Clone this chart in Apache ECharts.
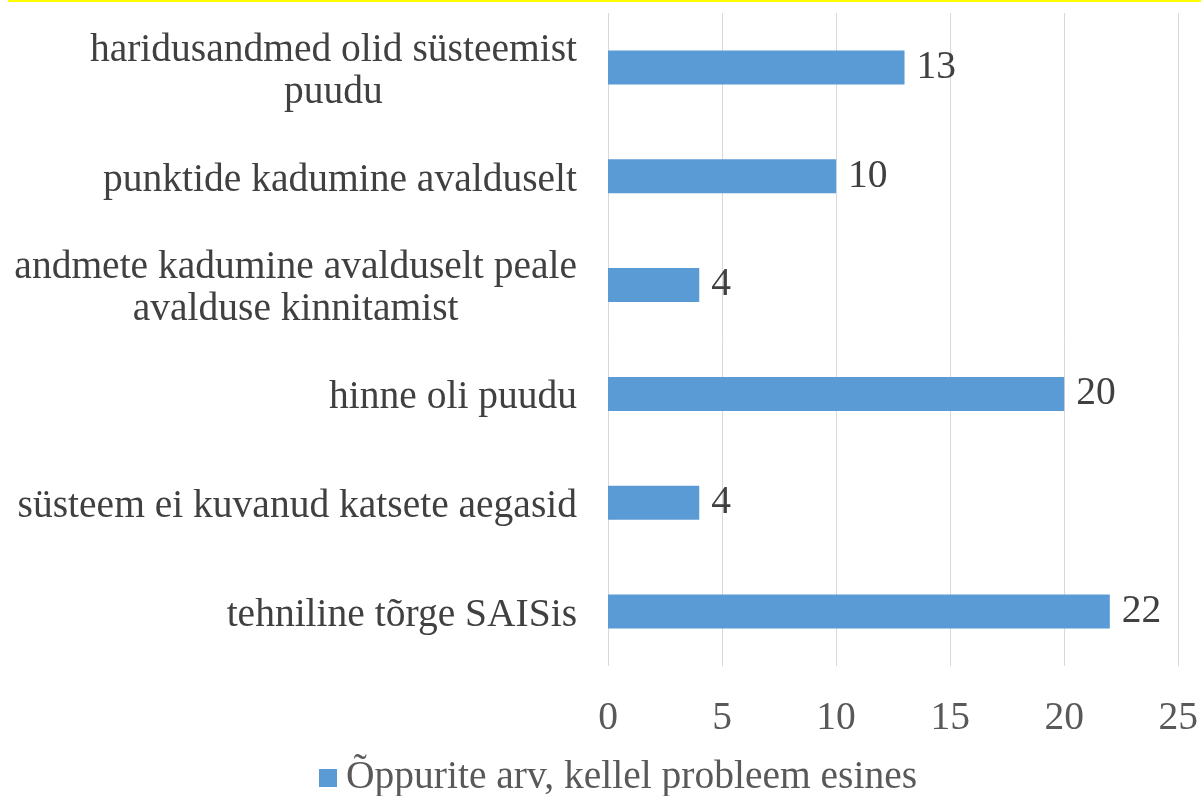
<!DOCTYPE html>
<html><head><meta charset="utf-8">
<script src="https://cdn.jsdelivr.net/npm/echarts@6/dist/echarts.min.js"></script>
<style>html,body{margin:0;padding:0;background:#fff}#c{width:1201px;height:796px}</style>
</head><body><div id="c"></div>
<script>
const categories = [
  "haridusandmed olid süsteemist\npuudu",
  "punktide kadumine avalduselt",
  "andmete kadumine avalduselt peale\navalduse kinnitamist",
  "hinne oli puudu",
  "süsteem ei kuvanud katsete aegasid",
  "tehniline tõrge SAISis"
];
const values = [13, 10, 4, 20, 4, 22];
const seriesName = "Õppurite arv, kellel probleem esines";
const FONT = '"Liberation Serif", "Times New Roman", serif';
const FS = 39.5;

const chart = echarts.init(document.getElementById('c'));
chart.setOption({
  animation: false,
  textStyle: { fontFamily: FONT },
  graphic: [{ type: 'rect', left: 8, top: 0, shape: { width: 1193, height: 2 }, style: { fill: '#ffff00' } }],
  grid: { left: 608, right: 17, top: 13, bottom: 130 },
  legend: {
    left: 314, bottom: -7, itemGap: 10,
    itemWidth: 18, itemHeight: 18, icon: 'rect',
    textStyle: { fontFamily: FONT, fontSize: FS, color: '#595959', padding: [0, 0, 0, 4] },
    data: [seriesName]
  },
  xAxis: {
    type: 'value', min: 0, max: 25, interval: 5,
    axisLine: { show: false }, axisTick: { show: false },
    splitLine: { lineStyle: { color: '#d9d9d9', width: 1 } },
    axisLabel: { fontFamily: FONT, fontSize: FS, color: '#595959', margin: 33 }
  },
  yAxis: {
    type: 'category', inverse: true, data: categories,
    axisLine: { show: false }, axisTick: { show: false },
    axisLabel: {
      fontFamily: FONT, fontSize: FS, color: '#404040', margin: 31, lineHeight: 42,
      padding: [8, 0, 0, 0],
      formatter: v => v.split('\n').map(s => '{c|' + s + '}').join('\n'),
      rich: { c: { align: 'center', fontFamily: FONT, fontSize: FS, color: '#404040', lineHeight: 42 } }
    }
  },
  series: [{
    name: seriesName, type: 'bar', data: values, barWidth: 34,
    itemStyle: { color: '#5b9bd5' },
    label: { show: true, position: 'right', distance: 12, fontFamily: FONT, fontSize: FS, color: '#404040' }
  }]
});
</script></body></html>
